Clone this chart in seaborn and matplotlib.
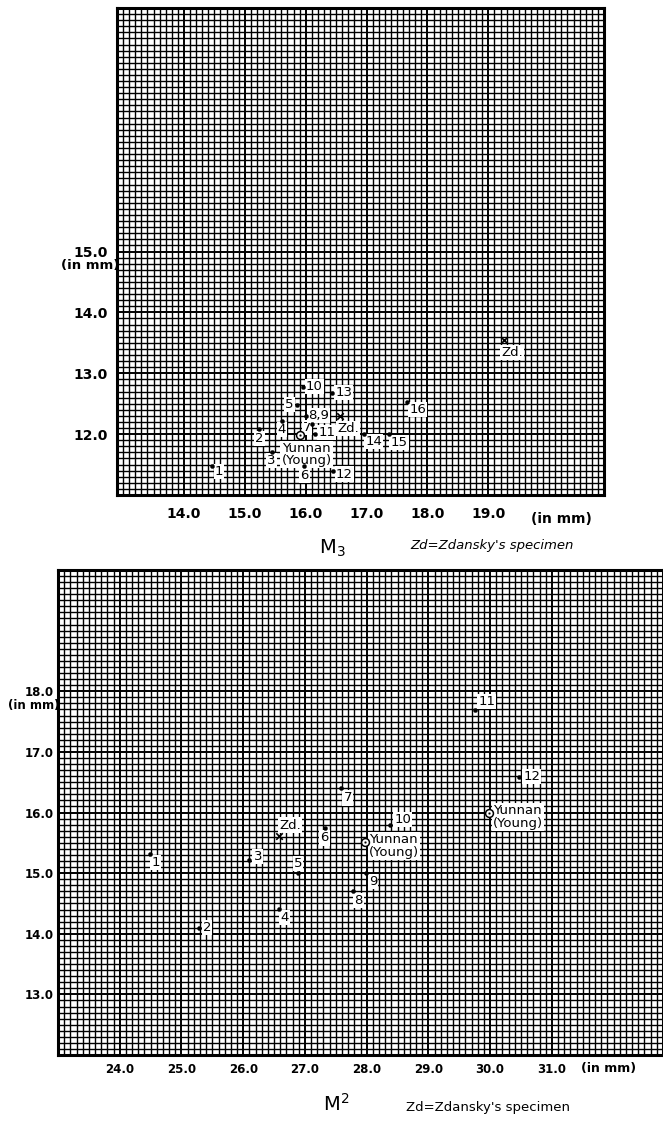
import numpy as np
import matplotlib
matplotlib.use("Agg")
import matplotlib.pyplot as plt
from matplotlib.ticker import MultipleLocator
import seaborn as sns

# M3: length / breadth (mm)
m3_names = ["1", "2", "3", "4", "5", "6", "7", "8,9", "10", "11", "12", "13", "14", "15", "16"]
m3_length = [14.46, 15.24, 15.44, 15.61, 15.85, 15.98, 16.11, 16.00, 15.96, 16.16, 16.45, 16.44, 16.96, 17.37, 17.66]
m3_breadth = [11.48, 12.09, 11.70, 12.21, 12.48, 11.48, 12.16, 12.30, 12.78, 12.00, 11.39, 12.68, 12.01, 12.00, 12.52]
m3_zd_length = [16.56, 19.25]
m3_zd_breadth = [12.30, 13.55]
m3_yunnan_length = [15.90]
m3_yunnan_breadth = [11.99]
m3_xticks = [14.0, 15.0, 16.0, 17.0, 18.0, 19.0]
m3_yticks = [12.0, 13.0, 14.0, 15.0]

# M2: length / breadth (mm)
m2_names = ["1", "2", "3", "4", "5", "6", "7", "8", "9", "10", "11", "12"]
m2_length = [24.49, 25.28, 26.10, 26.58, 26.89, 27.32, 27.58, 27.78, 27.99, 28.38, 29.76, 30.47]
m2_breadth = [15.31, 14.10, 15.21, 14.41, 15.00, 15.74, 16.40, 14.71, 15.00, 15.79, 17.69, 16.59]
m2_zd_length = [26.58]
m2_zd_breadth = [15.61]
m2_yunnan_length = [27.97, 29.98]
m2_yunnan_breadth = [15.52, 16.00]
m2_xticks = [24.0, 25.0, 26.0, 27.0, 28.0, 29.0, 30.0, 31.0]
m2_yticks = [13.0, 14.0, 15.0, 16.0, 17.0, 18.0]

# label offsets in points (dx, dy, ha)
m3_offsets = [(2, -4, "left"), (0, -7, "center"), (0, -6, "center"), (0, -6, "center"),
              (-2, 0, "right"), (0, -7, "center"), (-4, -2, "center"), (2, 0, "left"),
              (2, 0, "left"), (2, 1, "left"), (2, -2, "left"), (2, 0, "left"),
              (1, -6, "left"), (1, -6, "left"), (2, -5, "left")]
m2_offsets = [(1, -6, "left"), (3, 0, "left"), (3, 3, "left"), (1, -6, "left"),
              (0, 7, "center"), (0, -7, "center"), (2, -7, "left"), (1, -7, "left"),
              (2, -6, "left"), (3, 4, "left"), (2, 6, "left"), (3, 0, "left")]

sns.set_style("white")
plt.rcParams["font.family"] = ["DejaVu Sans"]
plt.rcParams["text.color"] = "black"
plt.rcParams["xtick.color"] = "black"
plt.rcParams["ytick.color"] = "black"

fig = plt.figure(figsize=(6.63, 11.22), dpi=100)
W, H = 663, 1122
ax1 = fig.add_axes([117 / W, 1 - 495 / H, (604 - 117) / W, (495 - 8) / H])
ax2 = fig.add_axes([58 / W, 1 - 1055 / H, (663 - 58) / W, (1055 - 570) / H])

box = dict(boxstyle="square,pad=0.08", fc="white", ec="none")


def graph_paper(ax, xlim, ylim, xticks, yticks, pad_x, pad_y, fs):
    ax.set_xlim(*xlim)
    ax.set_ylim(*ylim)
    ax.xaxis.set_minor_locator(MultipleLocator(0.1))
    ax.yaxis.set_minor_locator(MultipleLocator(0.1))
    ax.set_xticks(xticks, [f"{v:.1f}" for v in xticks], fontweight="bold")
    ax.set_yticks(yticks, [f"{v:.1f}" for v in yticks], fontweight="bold")
    ax.grid(which="minor", color="black", linewidth=1.0)
    ax.grid(which="major", color="black", linewidth=1.4)
    ax.set_axisbelow(True)
    ax.tick_params(which="both", length=0)
    ax.tick_params(axis="x", pad=pad_x, labelsize=fs)
    ax.tick_params(axis="y", pad=pad_y, labelsize=fs)
    for s in ax.spines.values():
        s.set_visible(True)
        s.set_color("black")
        s.set_linewidth(2.2)


def plot_points(ax, xs, ys, names, offsets, fs):
    sns.scatterplot(x=xs, y=ys, ax=ax, color="black", s=9, edgecolor="black", zorder=5)
    for x, y, n, (dx, dy, ha) in zip(xs, ys, names, offsets):
        ax.annotate(n, (x, y), xytext=(dx, dy), textcoords="offset points",
                    ha=ha, va="center", fontsize=fs, bbox=box, zorder=4)


def plot_zd(ax, xs, ys, dx, dy, fs):
    sns.scatterplot(x=xs, y=ys, ax=ax, marker="x", color="black", s=22, linewidth=1.2, zorder=5)
    for x, y in zip(xs, ys):
        ax.annotate("Zd.", (x, y), xytext=(dx, dy), textcoords="offset points",
                    ha="center", va="center", fontsize=fs, bbox=box, zorder=4)


def plot_yunnan(ax, xs, ys, txt, fs):
    sns.scatterplot(x=xs, y=ys, ax=ax, marker="o", color="white", edgecolor="black",
                    s=32, linewidth=1.1, zorder=5)
    sns.scatterplot(x=xs, y=ys, ax=ax, color="black", s=3, zorder=6)
    for x, y, (dx, dy, ha) in zip(xs, ys, txt):
        ax.annotate("Yunnan\n(Young)", (x, y), xytext=(dx, dy), textcoords="offset points",
                    ha=ha, va="top", fontsize=fs, linespacing=0.95, bbox=box, zorder=4)


# ---- M3 ----
graph_paper(ax1, (12.9, 20.9), (11.0, 19.0), m3_xticks, m3_yticks, 8.5, 6.5, 10)
plot_points(ax1, m3_length, m3_breadth, m3_names, m3_offsets, 9.5)
plot_zd(ax1, m3_zd_length, m3_zd_breadth, 6, -9, 9.5)
plot_yunnan(ax1, m3_yunnan_length, m3_yunnan_breadth, [(5, -5, "center")], 9.5)
ax1.annotate("(in mm)", (20.2, 0), xycoords=("data", "axes fraction"), xytext=(0, -17),
             textcoords="offset points", ha="center", va="center", fontsize=10,
             fontweight="bold", annotation_clip=False)
ax1.annotate("(in mm)", (0, 15.0), xycoords=("axes fraction", "data"), xytext=(2, -10),
             textcoords="offset points", ha="right", va="center", fontsize=9.5,
             fontweight="bold", annotation_clip=False, zorder=0)
fig.text(332 / W, 1 - 548 / H, r"M$_3$", fontsize=14, ha="center", va="center")
fig.text(410 / W, 1 - 545 / H, "Zd=Zdansky's specimen", fontsize=9.5, style="italic",
         ha="left", va="center")

# ---- M2 ----
graph_paper(ax2, (23.0, 32.8), (12.0, 20.0), m2_xticks, m2_yticks, 6, 3, 8.5)
plot_points(ax2, m2_length, m2_breadth, m2_names, m2_offsets, 9.5)
plot_zd(ax2, m2_zd_length, m2_zd_breadth, 8, 8, 9.5)
plot_yunnan(ax2, m2_yunnan_length, m2_yunnan_breadth, [(3, 6, "left"), (3, 6, "left")], 9.5)
ax2.annotate("(in mm)", (31.92, 0), xycoords=("data", "axes fraction"), xytext=(0, -10),
             textcoords="offset points", ha="center", va="center", fontsize=9,
             fontweight="bold", annotation_clip=False)
ax2.annotate("(in mm)", (0, 18.0), xycoords=("axes fraction", "data"), xytext=(1, -10),
             textcoords="offset points", ha="right", va="center", fontsize=8.5,
             fontweight="bold", annotation_clip=False, zorder=0)
fig.text(336 / W, 1 - 1104 / H, r"M$^2$", fontsize=14, ha="center", va="center")
fig.text(406 / W, 1 - 1107 / H, "Zd=Zdansky's specimen", fontsize=9.5,
         ha="left", va="center")

fig.savefig("out.png", dpi=100, facecolor="white")
